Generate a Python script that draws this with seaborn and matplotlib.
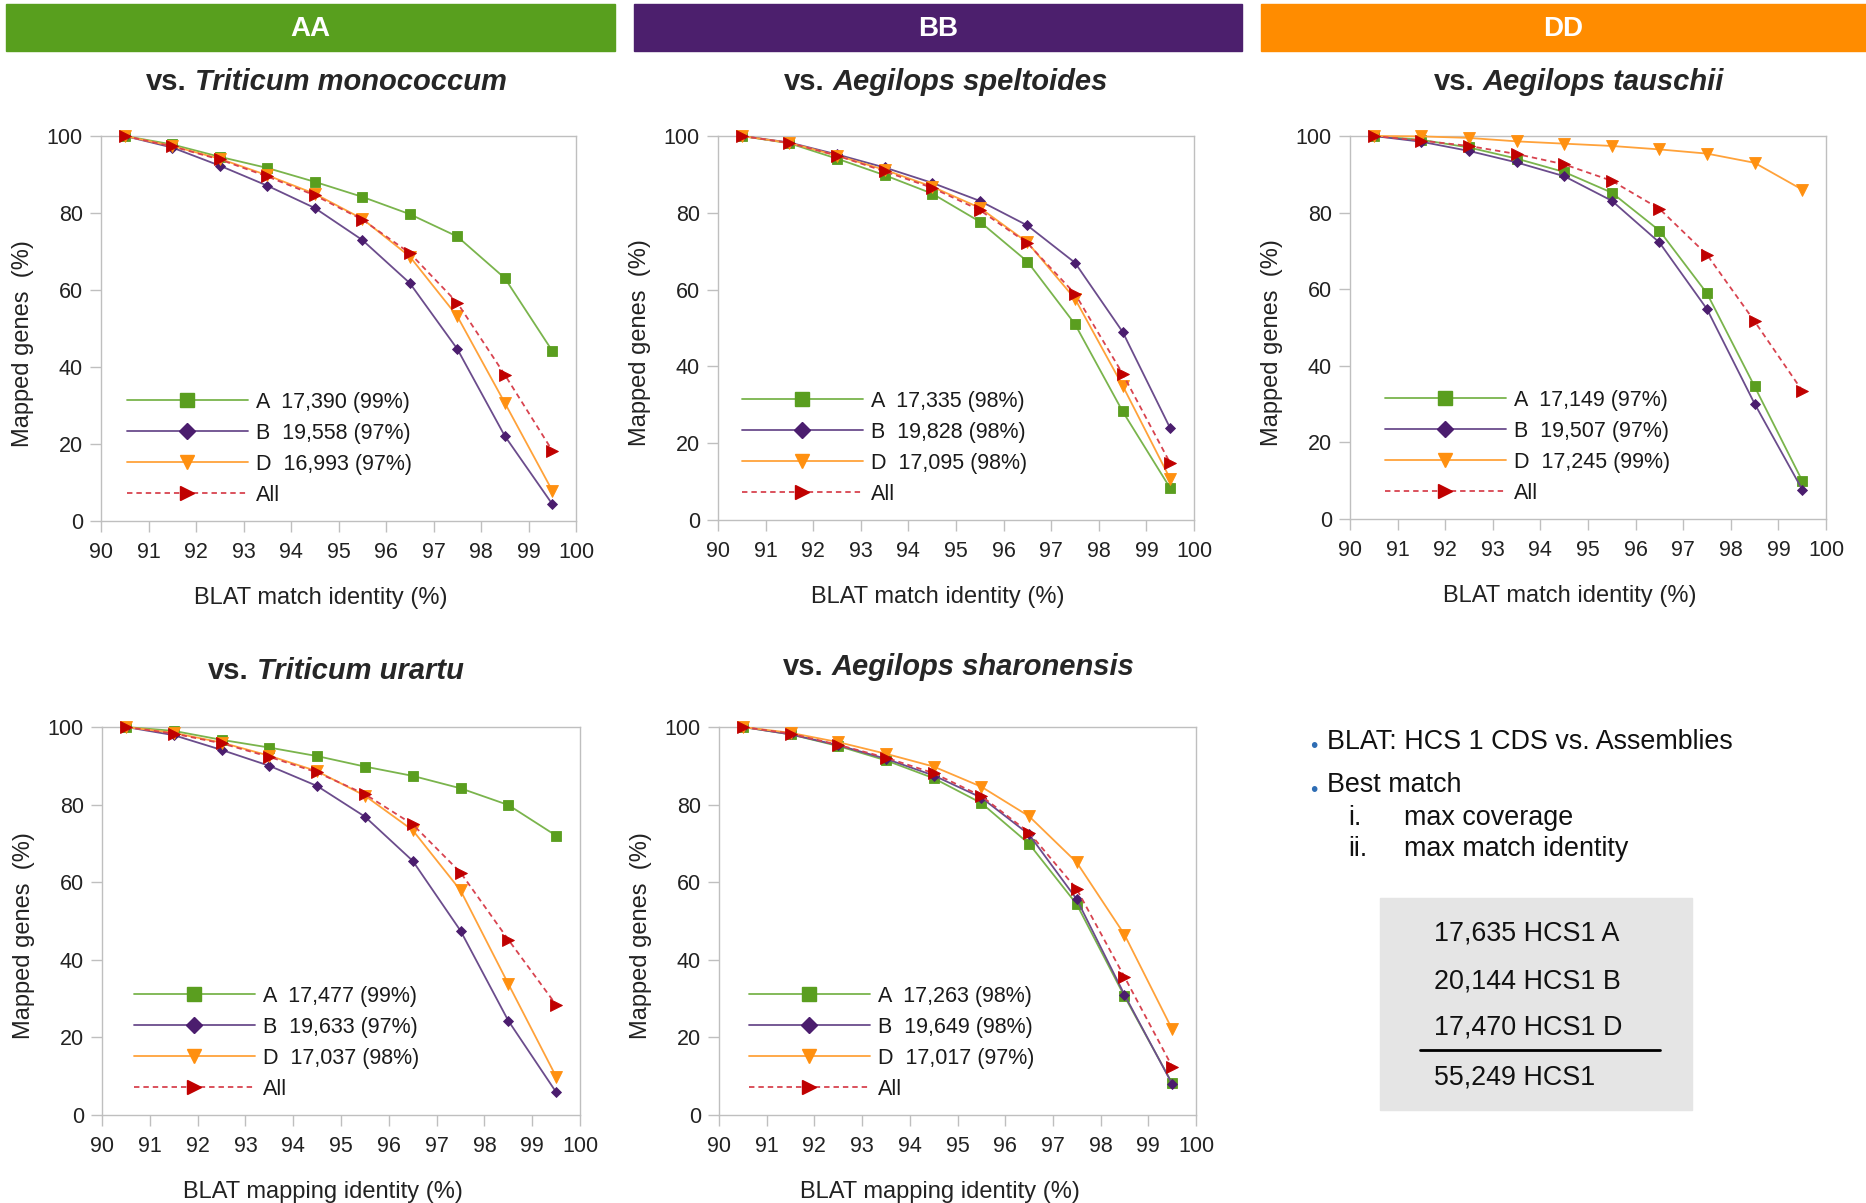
import matplotlib.pyplot as plt
import matplotlib.patches as mpatches
from matplotlib.lines import Line2D
import numpy as np
import pandas as pd
import seaborn as sns


## datos
identity = [90.5, 91.5, 92.5, 93.5, 94.5, 95.5, 96.5, 97.5, 98.5, 99.5]

# vs. Triticum monococcum (AA)
mono_A = [100, 97.8, 94.6, 91.7, 88.1, 84.2, 79.7, 73.9, 63.1, 44.2]
mono_B = [100, 97.0, 92.3, 87.1, 81.3, 73.0, 61.8, 44.7, 22.1, 4.4]
mono_D = [100, 97.4, 94.1, 89.8, 85.0, 78.5, 68.7, 53.2, 30.7, 7.9]
mono_All = [100, 97.3, 93.9, 89.5, 84.6, 78.3, 69.6, 56.7, 38.0, 18.3]
mono_counts = ['17,390 (99%)', '19,558 (97%)', '16,993 (97%)']

# vs. Aegilops speltoides (BB)
spelt_A = [100, 98.1, 94.1, 89.8, 85.0, 77.7, 67.3, 51.0, 28.3, 8.3]
spelt_B = [100, 98.3, 95.2, 91.8, 87.8, 83.1, 76.7, 67.0, 49.0, 23.9]
spelt_D = [100, 98.2, 94.9, 91.2, 86.8, 81.3, 72.3, 57.6, 35.0, 10.7]
spelt_All = [100, 98.2, 94.9, 90.8, 86.5, 80.7, 72.1, 58.9, 38.1, 14.8]
spelt_counts = ['17,335 (98%)', '19,828 (98%)', '17,095 (98%)']

# vs. Aegilops tauschii (DD)
tau_A = [100, 99.0, 97.0, 94.1, 90.6, 85.2, 75.3, 58.9, 34.6, 10.0]
tau_B = [100, 98.5, 96.1, 93.1, 89.5, 83.1, 72.2, 54.8, 30.1, 7.7]
tau_D = [100, 99.9, 99.5, 98.6, 98.0, 97.4, 96.5, 95.4, 93.0, 86.0]
tau_All = [100, 98.8, 97.4, 95.3, 92.6, 88.3, 81.0, 69.0, 51.6, 33.5]
tau_counts = ['17,149 (97%)', '19,507 (97%)', '17,245 (99%)']

# vs. Triticum urartu (AA)
ura_A = [100, 99.0, 96.7, 94.7, 92.5, 89.8, 87.4, 84.2, 79.9, 72.0]
ura_B = [100, 97.9, 94.1, 90.0, 84.8, 76.9, 65.5, 47.5, 24.3, 5.9]
ura_D = [100, 98.5, 96.0, 92.6, 88.6, 82.3, 73.4, 57.9, 33.8, 9.9]
ura_All = [100, 98.3, 95.8, 92.3, 88.3, 82.7, 74.9, 62.5, 45.2, 28.4]
ura_counts = ['17,477 (99%)', '19,633 (97%)', '17,037 (98%)']

# vs. Aegilops sharonensis (BB)
sha_A = [100, 98.1, 95.1, 91.4, 86.8, 80.4, 69.9, 54.3, 30.6, 8.2]
sha_B = [100, 98.1, 95.3, 91.8, 87.5, 81.8, 72.3, 55.6, 31.0, 8.0]
sha_D = [100, 98.5, 96.1, 93.1, 89.8, 84.6, 77.0, 65.1, 46.5, 22.1]
sha_All = [100, 98.3, 95.4, 92.1, 88.1, 82.2, 72.8, 58.2, 35.6, 12.5]
sha_counts = ['17,263 (98%)', '19,649 (98%)', '17,017 (97%)']

genomes = ['AA', 'BB', 'DD']
hcs1_lines = ['17,635 HCS1 A', '20,144 HCS1 B', '17,470 HCS1 D']
hcs1_total = '55,249 HCS1'


## estilo
sns.set_theme(style='white')
plt.rcParams['font.family'] = ['Liberation Sans', 'DejaVu Sans']

W, H = 1866, 1203
fig = plt.figure(figsize=(W / 100, H / 100), dpi=100)

bar_colors = {'AA': '#589F1E', 'BB': '#4C1F6D', 'DD': '#FF8C00'}
series_style = {
    'A':   dict(line='#7AB44C', mark='#5A9E1F', marker='s', ms=7.5, ls='-'),
    'B':   dict(line='#6B4C8C', mark='#4B1D6E', marker='D', ms=5.5, ls='-'),
    'D':   dict(line='#FFA23A', mark='#FF9010', marker='v', ms=8.5, ls='-'),
    'All': dict(line='#D8434F', mark='#C00000', marker='>', ms=8, ls=(0, (3, 2.2))),
}
legend_ms = {'A': 9.5, 'B': 8, 'D': 10.5, 'All': 10.5}
spine_col = '#BFBFBF'
text_col = '#222222'


def fx(x):
    return x / W


def fy(y):
    return 1 - y / H


## barras de encabezado
for name, (x0, x1) in zip(genomes, [(6, 615), (634, 1242), (1261, 1866)]):
    fig.patches.append(mpatches.Rectangle((fx(x0), fy(51)), fx(x1 - x0), 47 / H,
                                          transform=fig.transFigure, color=bar_colors[name], zorder=0))
    fig.text(fx((x0 + x1) / 2), fy(29), name, color='white', fontsize=20, fontweight='bold',
             ha='center', va='center')


renderer = fig.canvas.get_renderer()


def two_part_title(xc, yc, plain, ital, size=21):
    t1 = fig.text(0, fy(yc), plain, fontsize=size, fontweight='bold', ha='left', va='center')
    t2 = fig.text(0, fy(yc), ital, fontsize=size, fontweight='bold', style='italic',
                  ha='left', va='center')
    w1 = t1.get_window_extent(renderer).width
    w2 = t2.get_window_extent(renderer).width
    gap = size * 100 / 72 * 0.28
    x0 = xc - (w1 + gap + w2) / 2
    t1.set_x(fx(x0))
    t2.set_x(fx(x0 + w1 + gap))


panels = [
    dict(box=(101, 136, 576, 521), title=(326, 82, 'Triticum monococcum'),
         data=(mono_A, mono_B, mono_D, mono_All), counts=mono_counts,
         xlabel='BLAT match identity (%)', leg_dx=26),
    dict(box=(718, 136, 1194, 520), title=(946, 82, 'Aegilops speltoides'),
         data=(spelt_A, spelt_B, spelt_D, spelt_All), counts=spelt_counts,
         xlabel='BLAT match identity (%)', leg_dx=24),
    dict(box=(1350, 136, 1826, 519), title=(1579, 82, 'Aegilops tauschii'),
         data=(tau_A, tau_B, tau_D, tau_All), counts=tau_counts,
         xlabel='BLAT match identity (%)', leg_dx=35),
    dict(box=(102, 727, 580, 1115), title=(336, 671, 'Triticum urartu'),
         data=(ura_A, ura_B, ura_D, ura_All), counts=ura_counts,
         xlabel='BLAT mapping identity (%)', leg_dx=32),
    dict(box=(719, 727, 1196, 1115), title=(959, 667, 'Aegilops sharonensis'),
         data=(sha_A, sha_B, sha_D, sha_All), counts=sha_counts,
         xlabel='BLAT mapping identity (%)', leg_dx=30),
]

for p in panels:
    l, t, r, b = p['box']
    ax = fig.add_axes([fx(l), fy(b), fx(r - l), (b - t) / H])
    df = pd.DataFrame({'identity': identity, 'A': p['data'][0], 'B': p['data'][1],
                       'D': p['data'][2], 'All': p['data'][3]})
    for key in ['A', 'B', 'D', 'All']:
        st = series_style[key]
        sns.lineplot(data=df, x='identity', y=key, ax=ax, color=st['line'], linewidth=1.3,
                     linestyle=st['ls'], marker=st['marker'], markersize=st['ms'],
                     markerfacecolor=st['mark'], markeredgecolor=st['mark'], markeredgewidth=0.6,
                     clip_on=False, zorder=3)

    ax.set_xlim(90, 100)
    ax.set_ylim(0, 100)
    ax.set_xticks(range(90, 101))
    ax.set_yticks(range(0, 101, 20))
    ax.tick_params(axis='both', length=8, width=1, color=spine_col, labelsize=15.5,
                   labelcolor=text_col, bottom=True, left=True, direction='out')
    ax.tick_params(axis='x', pad=7)
    ax.tick_params(axis='y', pad=5)
    for sp in ax.spines.values():
        sp.set_color(spine_col)
        sp.set_linewidth(1)
        sp.set_visible(True)

    xlab = ax.set_xlabel(p['xlabel'], fontsize=17, color=text_col)
    ax.xaxis.set_label_coords(0.5 - 18 / (r - l), -66 / (b - t))
    xlab.set_va('top')
    ylab = ax.set_ylabel('Mapped genes  (%)', fontsize=17, color=text_col)
    ax.yaxis.set_label_coords(-78 / (r - l), 0.5 - 15 / (b - t))
    ylab.set_va('center')

    handles = []
    for key in ['A', 'B', 'D', 'All']:
        st = series_style[key]
        handles.append(Line2D([], [], color=st['line'], linewidth=1.3, linestyle=st['ls'],
                              marker=st['marker'], markersize=legend_ms[key],
                              markerfacecolor=st['mark'], markeredgecolor=st['mark']))
    labels = ['A  ' + p['counts'][0], 'B  ' + p['counts'][1], 'D  ' + p['counts'][2], 'All']
    leg = ax.legend(handles, labels, loc='lower left',
                    bbox_to_anchor=(p['leg_dx'] / (r - l), 15 / (b - t)),
                    frameon=False, fontsize=15.5, handlelength=5.6, handletextpad=0.4,
                    labelspacing=0.47, borderpad=0, borderaxespad=0)
    for txt in leg.get_texts():
        txt.set_color('#1a1a1a')

    two_part_title(p['title'][0], p['title'][1], 'vs.', p['title'][2])


## texto de la derecha
txt_size = 19.4
for yc, s in [(742, 'BLAT: HCS 1 CDS vs. Assemblies'), (785, 'Best match')]:
    fig.text(fx(1310), fy(yc + 5), '\u2022', color='#2E6DB4', fontsize=15, ha='left', va='center')
    fig.text(fx(1327), fy(yc), s, fontsize=txt_size, color='#111111', ha='left', va='center')
for yc, num, s in [(818, 'i.', 'max coverage'), (849, 'ii.', 'max match identity')]:
    fig.text(fx(1348), fy(yc), num, fontsize=txt_size, color='#111111', ha='left', va='center')
    fig.text(fx(1404), fy(yc), s, fontsize=txt_size, color='#111111', ha='left', va='center')

fig.patches.append(mpatches.Rectangle((fx(1380), fy(1110)), fx(1692 - 1380), (1110 - 898) / H,
                                      transform=fig.transFigure, color='#E5E5E5', zorder=0))
for yc, s in zip([934, 981, 1027], hcs1_lines):
    fig.text(fx(1434), fy(yc), s, fontsize=txt_size, color='#111111', ha='left', va='center')
fig.lines.append(Line2D([fx(1420), fx(1660)], [fy(1050), fy(1050)], transform=fig.transFigure,
                        color='black', linewidth=2))
fig.text(fx(1434), fy(1077), hcs1_total, fontsize=txt_size, color='#111111', ha='left', va='center')

fig.savefig('out.png', dpi=100)
